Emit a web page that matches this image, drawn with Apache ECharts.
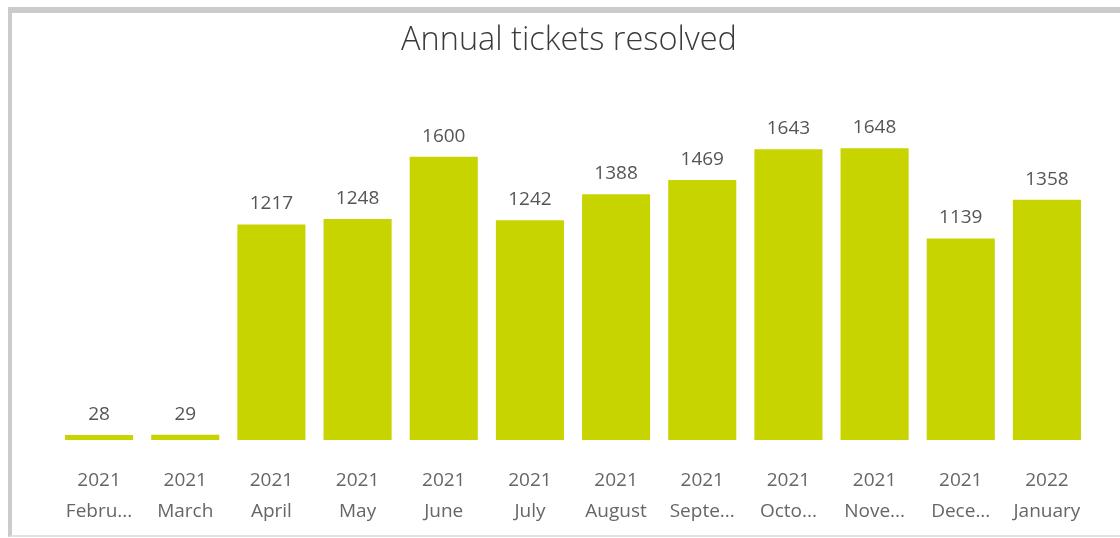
<!DOCTYPE html>
<html>
<head>
<meta charset="utf-8">
<script src="https://cdn.jsdelivr.net/npm/echarts@6/dist/echarts.min.js"></script>
<style>
html,body{margin:0;padding:0;background:#fff;width:1120px;height:538px;overflow:hidden;}
#frame{position:absolute;left:8px;top:7px;width:1120px;height:522px;border-top:6px solid #cbcbcb;border-left:4px solid #cbcbcb;border-bottom:2px solid #e2e2e2;box-sizing:content-box;}
#main{position:absolute;left:0;top:0;width:1120px;height:538px;}
</style>
</head>
<body>
<div id="frame"></div>
<div id="main"></div>
<script>
const years = ['2021','2021','2021','2021','2021','2021','2021','2021','2021','2021','2021','2022'];
const months = ['Febru...','March','April','May','June','July','August','Septe...','Octo...','Nove...','Dece...','January'];
const resolved = [28,29,1217,1248,1600,1242,1388,1469,1643,1648,1139,1358];
const titleText = 'Annual tickets resolved';

const categories = years.map((y,i)=>y+'\n'+months[i]);
const chart = echarts.init(document.getElementById('main'));
chart.setOption({
  backgroundColor:'transparent',
  animation:false,
  graphic:[{type:'text',left:401,top:24,style:{text:titleText,fontFamily:'Open Sans',fontWeight:300,fontSize:32.5,fill:'#3a3a3a'}}],
  grid:{left:56,right:30,top:86,bottom:98},
  xAxis:{type:'category',data:categories,axisLine:{show:false},axisTick:{show:false},
    axisLabel:{interval:0,margin:25,fontFamily:'Open Sans',fontSize:19,color:'#666',lineHeight:31}},
  yAxis:{type:'value',min:0,max:2000,show:false,splitLine:{show:false}},
  series:[{type:'bar',data:resolved,barCategoryGap:'21%',itemStyle:{color:'#c8d400'},
    label:{show:true,position:'top',distance:11,fontFamily:'Open Sans',fontSize:19,color:'#555'}}]
});
</script>
</body>
</html>
